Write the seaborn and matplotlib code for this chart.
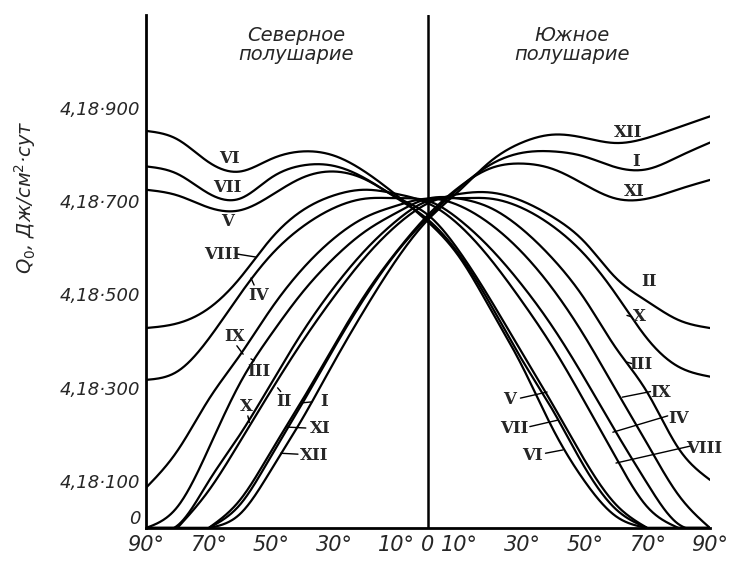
import numpy as np
import pandas as pd
import matplotlib
matplotlib.use('Agg')
import matplotlib.pyplot as plt
import seaborn as sns

# широта: северное полушарие - отрицательные (слева), южное - положительные (справа)
lat = [-90, -80, -70, -60, -50, -40, -30, -20, -10, 0, 10, 20, 30, 40, 50, 60, 70, 80, 90]

q_I = [0, 0, 0, 50, 155, 268, 385, 495, 590, 665, 728, 778, 803, 806, 795, 772, 768, 795, 825]
q_II = [0, 0, 80, 185, 295, 400, 495, 580, 648, 695, 715, 718, 700, 665, 612, 535, 485, 445, 428]
q_III = [0, 45, 170, 310, 415, 505, 578, 635, 675, 705, 705, 685, 640, 575, 490, 385, 290, 170, 103]
q_IV = [317, 335, 405, 500, 585, 645, 685, 705, 706, 700, 660, 598, 520, 428, 320, 205, 95, 8, 0]
q_V = [724, 712, 686, 680, 712, 750, 763, 746, 708, 670, 592, 488, 375, 262, 145, 50, 0, 0, 0]
q_VI = [850, 832, 783, 763, 790, 806, 797, 762, 712, 655, 580, 468, 347, 210, 100, 25, 0, 0, 0]
q_VII = [774, 758, 716, 705, 750, 776, 775, 748, 706, 660, 585, 478, 360, 250, 130, 40, 0, 0, 0]
q_VIII = [428, 438, 470, 535, 620, 680, 712, 724, 715, 695, 648, 575, 485, 385, 270, 150, 45, 0, 0]
q_IX = [86, 165, 275, 370, 470, 555, 620, 665, 690, 705, 690, 650, 590, 510, 410, 295, 180, 70, 0]
q_X = [0, 5, 100, 200, 310, 420, 515, 595, 658, 700, 706, 705, 685, 645, 585, 500, 405, 345, 324]
q_XI = [0, 0, 0, 60, 165, 275, 390, 500, 592, 670, 730, 770, 780, 768, 735, 705, 705, 725, 745]
q_XII = [0, 0, 0, 30, 125, 235, 355, 470, 575, 660, 722, 785, 825, 842, 835, 824, 835, 858, 881]

months = ['I', 'II', 'III', 'IV', 'V', 'VI', 'VII', 'VIII', 'IX', 'X', 'XI', 'XII']
series = [q_I, q_II, q_III, q_IV, q_V, q_VI, q_VII, q_VIII, q_IX, q_X, q_XI, q_XII]

x_ticks = [-90, -70, -50, -30, -10, 0, 10, 30, 50, 70, 90]
x_labels = ['90°', '70°', '50°', '30°', '10°', '0', '10°', '30°', '50°', '70°', '90°']
y_ticks = [0, 100, 300, 500, 700, 900]
y_labels = ['0', '4,18·100', '4,18·300', '4,18·500', '4,18·700', '4,18·900']


def spline(x, y, xn):
    # естественный кубический сплайн
    x = np.asarray(x, float)
    y = np.asarray(y, float)
    n = len(x)
    h = np.diff(x)
    A = np.zeros((n, n))
    b = np.zeros(n)
    A[0, 0] = A[-1, -1] = 1
    for i in range(1, n - 1):
        A[i, i - 1] = h[i - 1]
        A[i, i] = 2 * (h[i - 1] + h[i])
        A[i, i + 1] = h[i]
        b[i] = 6 * ((y[i + 1] - y[i]) / h[i] - (y[i] - y[i - 1]) / h[i - 1])
    M = np.linalg.solve(A, b)
    i = np.clip(np.searchsorted(x, xn) - 1, 0, n - 2)
    hi = h[i]
    a = x[i + 1] - xn
    c = xn - x[i]
    return (M[i] * a**3 / (6 * hi) + M[i + 1] * c**3 / (6 * hi)
            + (y[i] / hi - M[i] * hi / 6) * a + (y[i + 1] / hi - M[i + 1] * hi / 6) * c)


def curve(vals, xn):
    v = np.asarray(vals, float)
    x = np.asarray(lat, float)
    pos = np.where(v > 0)[0]
    lo = max(pos[0] - 1, 0)
    hi = min(pos[-1] + 1, len(v) - 1)
    out = np.zeros_like(xn)
    m = (xn >= x[lo]) & (xn <= x[hi])
    out[m] = spline(x[lo:hi + 1], v[lo:hi + 1], xn[m])
    return np.clip(out, 0, None)


fine = np.linspace(-90, 90, 721)
rows = []
for name, vals in zip(months, series):
    rows.append(pd.DataFrame({'lat': fine, 'q': curve(vals, fine), 'month': name}))
df = pd.concat(rows)

sns.set_style('white')
plt.rcParams['font.family'] = ['DejaVu Sans']

fig = plt.figure(figsize=(7.31, 5.65), dpi=100)
ax = fig.add_axes([146 / 731, 1 - 528 / 565, 564 / 731, 513 / 565])

sns.lineplot(data=df, x='lat', y='q', units='month', estimator=None, sort=False,
             color='black', linewidth=1.6, ax=ax, legend=False)

ax.axvline(0, color='black', linewidth=1.8)
ax.set_xlim(-90, 90)
ax.set_ylim(0, 1098)
ax.set_xticks(x_ticks)
ax.set_xticklabels(x_labels, fontsize=15, style='italic')
ax.set_yticks(y_ticks)
ax.set_yticklabels(y_labels, fontsize=13, style='italic')
ax.get_yticklabels()[0].set_verticalalignment('bottom')
ax.tick_params(axis='x', direction='in', length=6, width=1.3, pad=5)
ax.tick_params(axis='y', direction='in', length=10, width=1.3, pad=4)
ax.set_xlabel('')
ax.set_ylabel('')
for s in ['top', 'right']:
    ax.spines[s].set_visible(False)
for s in ['left', 'bottom']:
    ax.spines[s].set_linewidth(2)
    ax.spines[s].set_color('black')

fig.text(25 / 731, 1 - 197 / 565, '$Q_0$, Дж/см$^2$·сут', rotation=90, fontsize=14,
         style='italic', ha='center', va='center')

ax.text(-42, 1034, 'Северное\nполушарие', fontsize=14, style='italic',
        ha='center', va='center', linespacing=1.0)
ax.text(46, 1034, 'Южное\nполушарие', fontsize=14, style='italic',
        ha='center', va='center', linespacing=1.0)

lab_kw = dict(fontsize=12, family='DejaVu Serif', fontweight='bold', ha='center', va='center')
labels = [
    ('VI', -63.5, 790, None), ('VII', -64, 728, None), ('V', -64, 655, None),
    ('VIII', -65.6, 585, (-61.5, 587, -55, 580)),
    ('IV', -54, 497, (-55.5, 520, -56.5, 535)),
    ('IX', -61.8, 410, (-61, 390, -59, 372)),
    ('III', -53.9, 334, (-55.5, 358, -56.5, 362)),
    ('X', -58, 260, (-57.5, 240, -57, 226)),
    ('II', -46, 270, (-47, 292, -48, 300)),
    ('I', -33.3, 270, (-37, 270, -40, 268)),
    ('XI', -34.5, 214, (-39, 214, -45, 216)),
    ('XII', -36.5, 156, (-41.5, 158, -47, 160)),
    ('XII', 64, 846, None), ('I', 66.3, 784, None), ('XI', 65.7, 720, None),
    ('II', 70.5, 527, None),
    ('X', 67.5, 452, (65, 452, 63.5, 455)),
    ('III', 67.8, 349, (65, 352, 63.5, 355)),
    ('IX', 74.4, 291, (71, 292, 62, 280)),
    ('IV', 80, 235, (76.5, 240, 59, 205)),
    ('VIII', 88, 171, (83.5, 175, 60, 139)),
    ('V', 26, 274, (29.5, 278, 38, 291)),
    ('VII', 27.5, 214, (32.5, 217, 41.5, 231)),
    ('VI', 33.3, 156, (37.5, 160, 43, 167)),
]
for txt, lx, ly, lead in labels:
    ax.text(lx, ly, txt, **lab_kw)
    if lead is not None:
        ax.plot([lead[0], lead[2]], [lead[1], lead[3]], color='black', linewidth=1)

fig.savefig('out.png', dpi=100, facecolor='white')
